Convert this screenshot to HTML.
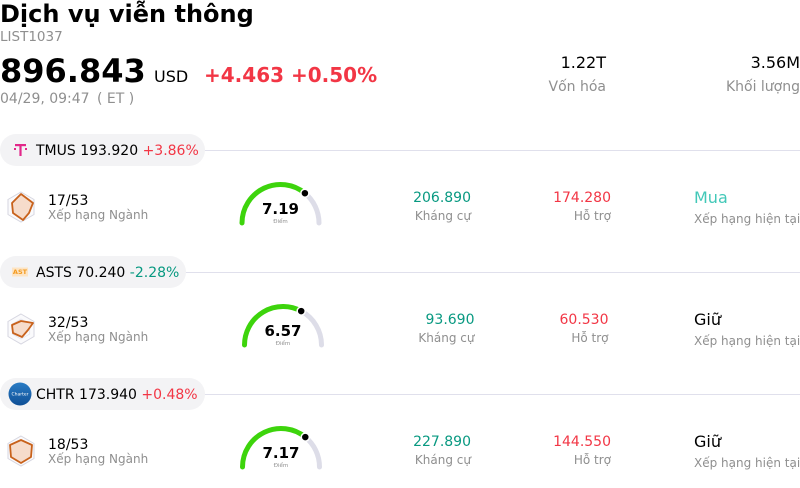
<!DOCTYPE html>
<html><head><meta charset="utf-8"><style>
html,body{margin:0;padding:0;background:#fff;}
body{width:800px;height:488px;overflow:hidden;}
svg{display:block;}
text{font-family:"DejaVu Sans","Liberation Sans","Noto Sans CJK JP",sans-serif;}
</style></head><body>
<svg width="800" height="488" viewBox="0 0 800 488" xmlns="http://www.w3.org/2000/svg">
<rect width="800" height="488" fill="#fff"/>
<!-- Header -->
<text x="0" y="22" font-size="24" font-weight="bold" fill="#000">Dịch vụ viễn thông</text>
<text x="0" y="41" font-size="13.5" fill="#8f8f8f">LIST1037</text>
<text x="0" y="82" font-size="32" font-weight="bold" fill="#000">896.843</text>
<text x="154" y="82" font-size="16" fill="#000">USD</text>
<text x="204" y="82" font-size="20" font-weight="bold" fill="#f23645">+4.463 +0.50%</text>
<text x="0" y="103" font-size="14" fill="#8f8f8f">04/29, 09:47</text>
<text x="97" y="103" font-size="14" fill="#8f8f8f" xml:space="preserve">( ET )</text>
<text x="606" y="68" font-size="16" fill="#000" text-anchor="end">1.22T</text>
<text x="606" y="91" font-size="14" fill="#8f8f8f" text-anchor="end">Vốn hóa</text>
<text x="800" y="68" font-size="16" fill="#000" text-anchor="end">3.56M</text>
<text x="800" y="91" font-size="14" fill="#8f8f8f" text-anchor="end">Khối lượng</text>

<!-- Section 1 -->
<line x1="200" y1="150.5" x2="800" y2="150.5" stroke="#e0e0ec" stroke-width="1"/>
<rect x="0" y="134" width="205" height="32" rx="16" fill="#f3f3f5"/>
<g fill="#e2288a">
<rect x="15" y="144" width="11" height="2.2"/>
<rect x="19.4" y="144" width="2.2" height="12"/>
<rect x="14" y="148" width="2" height="2"/>
<rect x="25" y="148" width="2" height="2"/>
</g>
<text x="36" y="155" font-size="14" fill="#000">TMUS 193.920 <tspan fill="#f23645">+3.86%</tspan></text>

<!-- Row 1 -->
<g transform="translate(21,207)">
<polygon points="0,-15 13,-7.5 13,7.5 0,15 -13,7.5 -13,-7.5" fill="#fafafc" stroke="#d6d6e0" stroke-width="1"/>
<polygon points="0,-10 8.7,-5 8.7,5 0,10 -8.7,5 -8.7,-5" fill="none" stroke="#e4e4ec" stroke-width="0.8"/>
<polygon points="0,-13 12,-4 8,6 2,13 -8,6 -9,-4" fill="#f6dccb" stroke="#c8621c" stroke-width="1.8" stroke-linejoin="round"/>
</g>
<text x="48" y="205" font-size="14" fill="#000">17/53</text>
<text x="48" y="219" font-size="12" fill="#8f8f8f">Xếp hạng Ngành</text>
<g>
<path d="M242 223 A38.5 38.5 0 0 1 304.9 193.2" fill="none" stroke="#3dd40c" stroke-width="5" stroke-linecap="round"/>
<path d="M304.9 193.2 A38.5 38.5 0 0 1 319 223" fill="none" stroke="#dddde8" stroke-width="5" stroke-linecap="round"/>
<circle cx="304.9" cy="193.2" r="4" fill="#000" stroke="#fff" stroke-width="1.5"/>
<text x="280.5" y="214" font-size="15" font-weight="bold" fill="#000" text-anchor="middle">7.19</text>
<text x="280.5" y="223" font-size="5.5" fill="#8f8f8f" text-anchor="middle">Điểm</text>
</g>
<text x="471" y="202" font-size="14" fill="#089981" text-anchor="end">206.890</text>
<text x="471" y="220" font-size="12" fill="#8f8f8f" text-anchor="end">Kháng cự</text>
<text x="611" y="202" font-size="14" fill="#f23645" text-anchor="end">174.280</text>
<text x="611" y="220" font-size="12" fill="#8f8f8f" text-anchor="end">Hỗ trợ</text>
<text x="694" y="203" font-size="16" fill="#42c8b8">Mua</text>
<text x="694" y="223" font-size="12" fill="#8f8f8f">Xếp hạng hiện tại</text>

<!-- Section 2 -->
<line x1="180" y1="272.5" x2="800" y2="272.5" stroke="#e0e0ec" stroke-width="1"/>
<rect x="0" y="256" width="186" height="32" rx="16" fill="#f3f3f5"/>
<rect x="12" y="267.5" width="16" height="9" fill="#fde4c4"/>
<text x="20" y="274" font-size="6.5" font-weight="bold" fill="#f39a1e" text-anchor="middle">AST</text>
<text x="36" y="277" font-size="14" fill="#000">ASTS 70.240 <tspan fill="#089981">-2.28%</tspan></text>

<!-- Row 2 -->
<g transform="translate(21,329)">
<polygon points="0,-15 13,-7.5 13,7.5 0,15 -13,7.5 -13,-7.5" fill="#fafafc" stroke="#d6d6e0" stroke-width="1"/>
<polygon points="0,-10 8.7,-5 8.7,5 0,10 -8.7,5 -8.7,-5" fill="none" stroke="#e4e4ec" stroke-width="0.8"/>
<polygon points="0,-8 12,-6 7,1 1,8 -8,4 -9,-4" fill="#f6dccb" stroke="#c8621c" stroke-width="1.8" stroke-linejoin="round"/>
</g>
<text x="48" y="327" font-size="14" fill="#000">32/53</text>
<text x="48" y="341" font-size="12" fill="#8f8f8f">Xếp hạng Ngành</text>
<g>
<path d="M244.5 345 A38.5 38.5 0 0 1 301.2 311.1" fill="none" stroke="#3dd40c" stroke-width="5" stroke-linecap="round"/>
<path d="M301.2 311.1 A38.5 38.5 0 0 1 321.5 345" fill="none" stroke="#dddde8" stroke-width="5" stroke-linecap="round"/>
<circle cx="301.2" cy="311.1" r="4" fill="#000" stroke="#fff" stroke-width="1.5"/>
<text x="283" y="336" font-size="15" font-weight="bold" fill="#000" text-anchor="middle">6.57</text>
<text x="283" y="345" font-size="5.5" fill="#8f8f8f" text-anchor="middle">Điểm</text>
</g>
<text x="474.5" y="324" font-size="14" fill="#089981" text-anchor="end">93.690</text>
<text x="474.5" y="342" font-size="12" fill="#8f8f8f" text-anchor="end">Kháng cự</text>
<text x="608.5" y="324" font-size="14" fill="#f23645" text-anchor="end">60.530</text>
<text x="608.5" y="342" font-size="12" fill="#8f8f8f" text-anchor="end">Hỗ trợ</text>
<text x="694" y="325" font-size="16" fill="#000">Giữ</text>
<text x="694" y="345" font-size="12" fill="#8f8f8f">Xếp hạng hiện tại</text>

<!-- Section 3 -->
<line x1="200" y1="394.5" x2="800" y2="394.5" stroke="#e0e0ec" stroke-width="1"/>
<rect x="0" y="378" width="205" height="32" rx="16" fill="#f3f3f5"/>
<defs><linearGradient id="cg" x1="0" y1="0" x2="0" y2="1"><stop offset="0" stop-color="#2a7cc4"/><stop offset="1" stop-color="#0f4f96"/></linearGradient></defs>
<circle cx="20" cy="394" r="11.5" fill="url(#cg)"/>
<text x="20" y="395.5" font-size="4.5" fill="#fff" text-anchor="middle">Charter</text>
<text x="36" y="399" font-size="14" fill="#000">CHTR 173.940 <tspan fill="#f23645">+0.48%</tspan></text>

<!-- Row 3 -->
<g transform="translate(21,451)">
<polygon points="0,-15 13,-7.5 13,7.5 0,15 -13,7.5 -13,-7.5" fill="#fafafc" stroke="#d6d6e0" stroke-width="1"/>
<polygon points="0,-10 8.7,-5 8.7,5 0,10 -8.7,5 -8.7,-5" fill="none" stroke="#e4e4ec" stroke-width="0.8"/>
<polygon points="0,-11 11,-6 10,6 0,12 -10,6 -11,-6" fill="#f6dccb" stroke="#c8621c" stroke-width="1.8" stroke-linejoin="round"/>
</g>
<text x="48" y="449" font-size="14" fill="#000">18/53</text>
<text x="48" y="463" font-size="12" fill="#8f8f8f">Xếp hạng Ngành</text>
<g>
<path d="M242.5 467 A38.5 38.5 0 0 1 305.3 437.1" fill="none" stroke="#3dd40c" stroke-width="5" stroke-linecap="round"/>
<path d="M305.3 437.1 A38.5 38.5 0 0 1 319.5 467" fill="none" stroke="#dddde8" stroke-width="5" stroke-linecap="round"/>
<circle cx="305.3" cy="437.1" r="4" fill="#000" stroke="#fff" stroke-width="1.5"/>
<text x="281" y="458" font-size="15" font-weight="bold" fill="#000" text-anchor="middle">7.17</text>
<text x="281" y="467" font-size="5.5" fill="#8f8f8f" text-anchor="middle">Điểm</text>
</g>
<text x="471" y="446" font-size="14" fill="#089981" text-anchor="end">227.890</text>
<text x="471" y="464" font-size="12" fill="#8f8f8f" text-anchor="end">Kháng cự</text>
<text x="611" y="446" font-size="14" fill="#f23645" text-anchor="end">144.550</text>
<text x="611" y="464" font-size="12" fill="#8f8f8f" text-anchor="end">Hỗ trợ</text>
<text x="694" y="447" font-size="16" fill="#000">Giữ</text>
<text x="694" y="467" font-size="12" fill="#8f8f8f">Xếp hạng hiện tại</text>
</svg>
</body></html>
